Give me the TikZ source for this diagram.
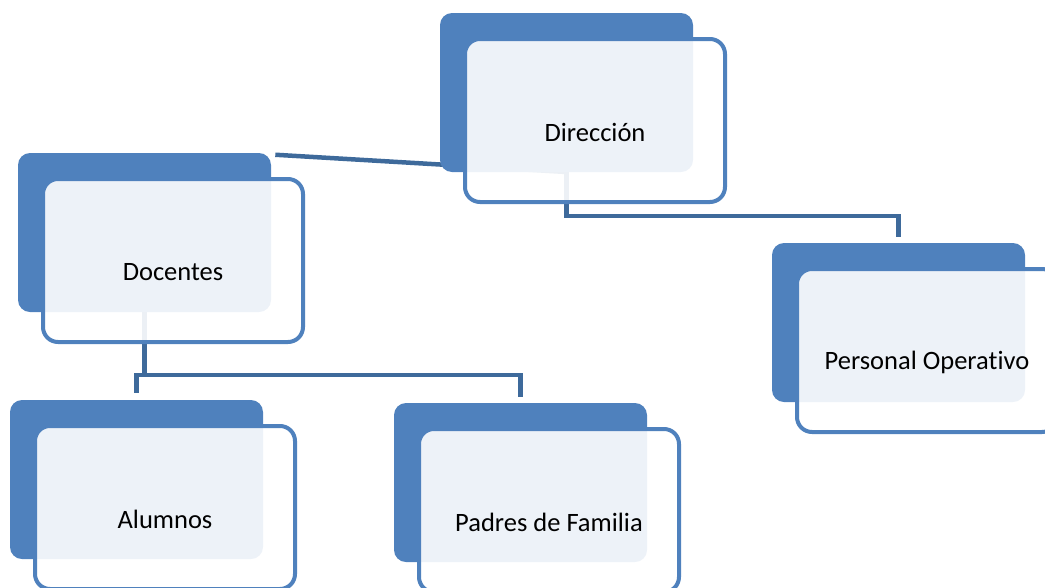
\documentclass[tikz,border=0pt]{standalone}
\usepackage{fontspec}
\setmainfont[Ligatures=NoCommon]{Carlito}
\usepackage{tikz}
\usetikzlibrary{backgrounds}
\usetikzlibrary{calc}

\definecolor{boxblue}{RGB}{79,129,189}
\definecolor{lineblue}{RGB}{62,106,155}

\tikzset{
	backbox/.style={fill=boxblue, rounded corners=12pt, minimum width=253pt, minimum height=159pt, inner sep=0pt, outer sep=0pt},
	frontbox/.style={draw=boxblue, line width=4pt, fill=white, fill opacity=0.9, rounded corners=15pt, minimum width=260pt, minimum height=163pt, inner sep=0pt, outer sep=0pt},
	lbl/.style={font=\fontsize{26.5}{30}\selectfont, text=black, inner sep=0pt},
	conn/.style={draw=lineblue, line width=4.5pt}
}

% one chart entry: name, x, y (top left of the dark box), text
\newcommand{\orgunit}[4]{%
	\node[backbox, anchor=north west] (#1-b) at (#2,#3) {};
	\node[frontbox, anchor=north west] (#1-f) at (#2+25,#3+26) {};
	\node[lbl] (#1) at ([yshift=-12pt]#1-f.center) {#4};
}

\begin{document}
\begin{tikzpicture}[x=1pt, y=-1pt]
	\useasboundingbox (0,0) rectangle (1045,587);
	\clip (0,0) rectangle (1045,587);

	\orgunit{dir}{440}{13}{Dirección}
	\orgunit{doc}{18}{153}{Docentes}
	\orgunit{per}{772}{243}{Personal Operativo}
	\orgunit{alu}{10}{400}{Alumnos}
	\orgunit{pad}{394}{403}{Padres de Familia}

	\begin{pgfonlayer}{background}
		\draw[conn] (dir-b.south) -- ($(dir-b.south)!0.69!([yshift=6pt]doc-b.north)$);
		\draw[conn, shorten >=6pt] (dir-b.south) -- ++(0,44) -| (per-b.north);
		\draw[conn] (doc-b.south) -- ++(0,63) coordinate (doc-j);
		\draw[conn, shorten >=7pt] (doc-j) -| (alu-b.north);
		\draw[conn, shorten >=6pt] (doc-j) -| (pad-b.north);
	\end{pgfonlayer}
\end{tikzpicture}
\end{document}
